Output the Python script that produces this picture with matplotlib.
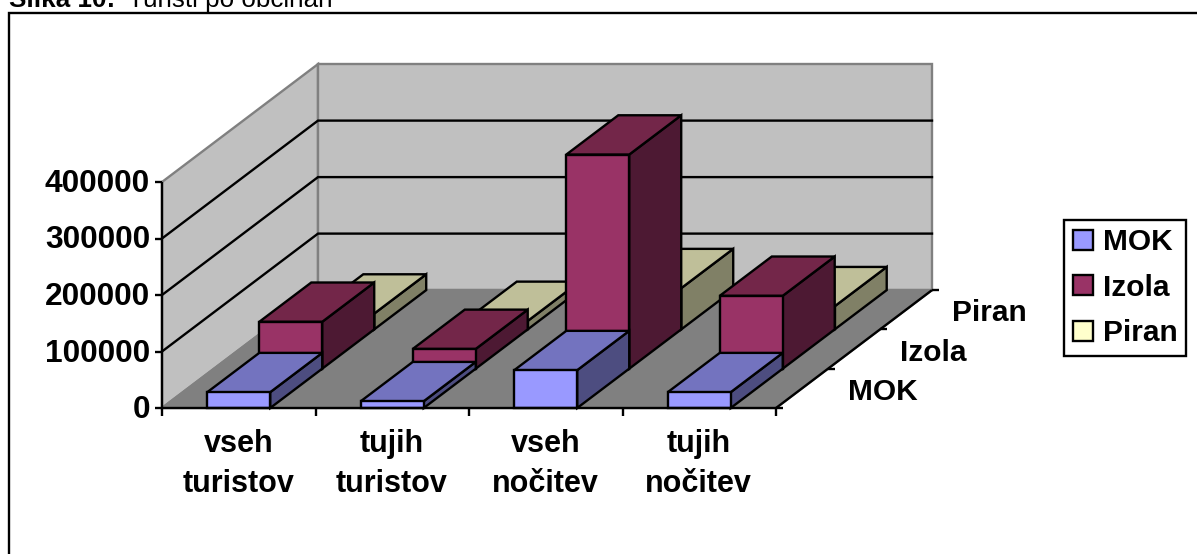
import matplotlib
matplotlib.use("Agg")
import matplotlib.pyplot as plt
from matplotlib.patches import Polygon, Patch, Rectangle

categories = ["vseh\nturistov", "tujih\nturistov", "vseh\nnočitev", "tujih\nnočitev"]
series_names = ["MOK", "Izola", "Piran"]
mok = [28000, 12000, 67000, 28000]
izola = [83000, 35000, 379000, 129000]
piran = [28000, 15000, 73000, 41000]
y_ticks = [0, 100000, 200000, 300000, 400000]

face_colors = ["#9999FF", "#993366", "#FFFFCC"]
top_colors = ["#7373BF", "#732649", "#BFBF99"]
side_colors = ["#4D4D80", "#4D1933", "#808066"]

W, H = 1197, 554
FONT = "Liberation Sans"
FS = 21.5
LW = 1.7
OX, OY = 162.0, 408.0
CAT_W = 153.5
DX, DY = 52.0, -39.3
PX_PER_VAL = 226.0 / 400000.0
BAR_INSET = 0.295
YMAX = y_ticks[-1]
NC, NS = len(categories), len(series_names)


def proj(c, s, v):
    """Oblique projection: category position, series depth, value -> pixels."""
    return (OX + c * CAT_W + s * DX, OY + s * DY - v * PX_PER_VAL)


fig = plt.figure(figsize=(W / 100, H / 100), dpi=100)
ax = fig.add_axes([0, 0, 1, 1])
ax.set_xlim(0, W)
ax.set_ylim(H, 0)
ax.axis("off")

# frame round the chart area and caption above it
ax.add_patch(Rectangle((9, 12.5), W + 20, H + 20, fc="white", ec="black", lw=LW, zorder=0))
ax.text(9, 7, "Slika 10:", family=FONT, fontsize=18.7, fontweight="bold", va="baseline", ha="left")
ax.text(128, 7, "Turisti po občinah", family=FONT, fontsize=18.7, va="baseline", ha="left")


def poly(pts, fc, ec="black", lw=LW, z=1):
    ax.add_patch(Polygon(pts, closed=True, fc=fc, ec=ec, lw=lw, joinstyle="miter", zorder=z))


# walls and floor
poly([proj(0, 0, 0), proj(0, NS, 0), proj(0, NS, YMAX), proj(0, 0, YMAX)], "#C0C0C0", "#808080")
poly([proj(0, NS, 0), proj(NC, NS, 0), proj(NC, NS, YMAX), proj(0, NS, YMAX)], "#C0C0C0", "#808080")
poly([proj(0, 0, 0), proj(NC, 0, 0), proj(NC, NS, 0), proj(0, NS, 0)], "#808080", "#808080")

# gridlines
for v in y_ticks[1:-1]:
    a, b, c = proj(0, 0, v), proj(0, NS, v), proj(NC, NS, v)
    ax.plot([a[0], b[0], c[0]], [a[1], b[1], c[1]], color="black", lw=LW, zorder=2, solid_joinstyle="miter")

# axes lines and ticks
def seg(p, q, z=8):
    ax.plot([p[0], q[0]], [p[1], q[1]], color="black", lw=LW, zorder=z, solid_capstyle="butt")


seg(proj(0, 0, 0), proj(0, 0, YMAX))
seg(proj(0, 0, 0), proj(NC, 0, 0))
seg(proj(NC, 0, 0), proj(NC, NS, 0))
for v in y_ticks:
    x, y = proj(0, 0, v)
    seg((x - 7, y), (x, y))
    ax.text(x - 12, y - 1.5, str(v), family=FONT, fontsize=22.8, fontweight="bold", ha="right", va="center_baseline")
for c in range(NC + 1):
    x, y = proj(c, 0, 0)
    seg((x, y), (x, y + 8))
for s in range(NS + 1):
    x, y = proj(NC, s, 0)
    seg((x, y), (x + 7, y))
for s, name in enumerate(series_names):
    x, y = proj(NC, s + 0.5, 0)
    ax.text(x + 46.5, y + 0.5, name, family=FONT, fontsize=FS, fontweight="bold", ha="left", va="center_baseline")
for c, lab in enumerate(categories):
    x, y = proj(c + 0.5, 0, 0)
    ax.text(x - 0.5, y + 56, lab, family=FONT, fontsize=22, fontweight="bold", ha="center", va="center", linespacing=1.42)

# bars, back to front
all_values = [mok, izola, piran]
z = 3.0
for s in range(NS - 1, -1, -1):
    for c in range(NC):
        v = all_values[s][c]
        c0, c1 = c + BAR_INSET, c + 1 - BAR_INSET
        s0, s1 = s, s + 1
        z += 0.01
        poly([proj(c1, s0, 0), proj(c1, s1, 0), proj(c1, s1, v), proj(c1, s0, v)], side_colors[s], z=z)
        poly([proj(c0, s0, v), proj(c1, s0, v), proj(c1, s1, v), proj(c0, s1, v)], top_colors[s], z=z)
        poly([proj(c0, s0, 0), proj(c1, s0, 0), proj(c1, s0, v), proj(c0, s0, v)], face_colors[s], z=z)

# legend
handles = [Patch(fc=fc, ec="black", lw=LW) for fc in face_colors]
leg = ax.legend(handles, series_names, loc="upper left", bbox_to_anchor=(1064 / W, 1 - 219.5 / H),
                bbox_transform=ax.transAxes, borderaxespad=0, frameon=True, fancybox=False,
                edgecolor="black", framealpha=1, handlelength=0.67, handleheight=0.67, handletextpad=0.33,
                borderpad=0.29, labelspacing=0.59, prop={"family": FONT, "weight": "bold", "size": FS})
leg.get_frame().set_linewidth(LW)

fig.savefig("out.png", dpi=100)
